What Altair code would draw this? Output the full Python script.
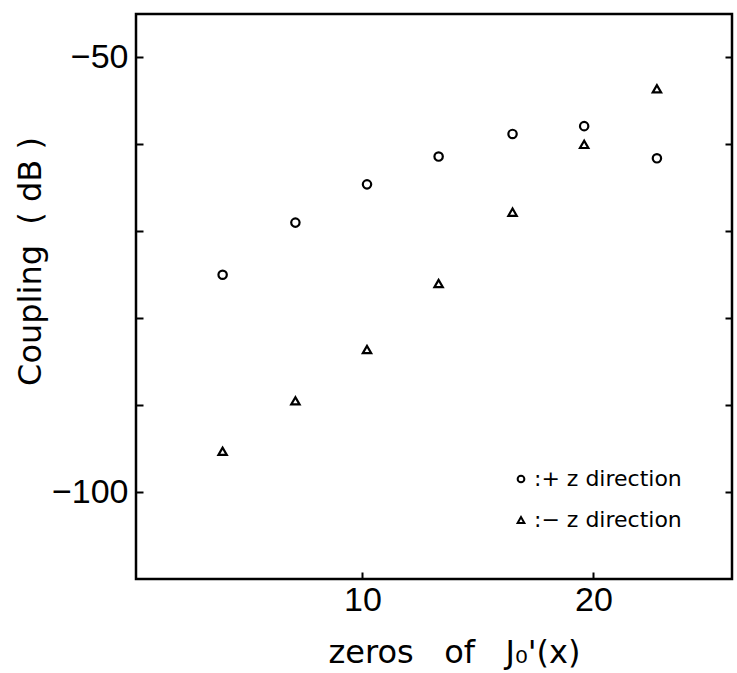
import altair as alt
import pandas as pd

# values
zeros_x = [3.95, 7.1, 10.2, 13.3, 16.5, 19.6, 22.75]
plus_z = [-75.0, -69.0, -64.6, -61.4, -58.8, -57.9, -61.6]
minus_z = [-95.3, -89.5, -83.6, -76.0, -67.8, -60.0, -53.6]
series_names = ["+z", "-z"]
y_ticks = [-50, -60, -70, -80, -90, -100]
x_ticks = [10, 20]

NB = "\u00a0"
x_title = "zeros" + NB * 3 + "of" + NB * 3 + "J₀'(x)"
y_title = "Coupling" + NB * 2 + "(" + NB + "dB" + NB + ")"
legend_plus = ":+" + NB + "z" + NB + "direction"
legend_minus = ":−" + NB + "z" + NB + "direction"

rows = []
for xv, a, b in zip(zeros_x, plus_z, minus_z):
    rows.append({"x": xv, "y": a, "dir": series_names[0]})
    rows.append({"x": xv, "y": b, "dir": series_names[1]})
df = pd.DataFrame(rows)

NUM_FONT = "Liberation Sans"
TXT_FONT = "DejaVu Sans"
xs = alt.Scale(domain=[0.2, 26.0], nice=False, zero=False)
ys = alt.Scale(domain=[-110, -45], nice=False, zero=False)

x_axis = alt.Axis(
    values=x_ticks, orient="bottom", offset=-7, tickSize=7, tickWidth=2, tickColor="black",
    domain=False, grid=False, labelFont=NUM_FONT, labelFontSize=34, labelColor="black",
    labelPadding=4, format="d",
    title=x_title, titleFont=TXT_FONT, titleFontSize=32, titleFontWeight="normal",
    titleColor="black", titleY=90, titleX=318, titleBaseline="alphabetic", titleAlign="center",
)
y_axis_left = alt.Axis(
    values=y_ticks, orient="left", offset=-7, tickSize=7, tickWidth=2, tickColor="black",
    domain=False, grid=False, labelFont=NUM_FONT, labelFontSize=34, labelColor="black",
    labelPadding=8,
    labelExpr="datum.value == -50 || datum.value == -100 ? '−' + format(-datum.value, 'd') : ''",
    title=y_title, titleFont=TXT_FONT, titleFontSize=32, titleFontWeight="normal",
    titleColor="black", titleX=-113, titleY=247, titleBaseline="middle", titleAlign="center",
)
y_axis_right = alt.Axis(
    values=y_ticks, orient="right", offset=-7, tickSize=7, tickWidth=2, tickColor="black",
    domain=False, grid=False, labels=False, title=None,
)

points = alt.Chart(df).mark_point(filled=False, size=70, strokeWidth=2.2, color="black", opacity=1).encode(
    x=alt.X("x:Q", scale=xs, axis=x_axis),
    y=alt.Y("y:Q", scale=ys, axis=y_axis_left),
    shape=alt.Shape(
        "dir:N",
        scale=alt.Scale(domain=series_names, range=["circle", "triangle-up"]),
        legend=alt.Legend(
            orient="none", legendX=374, legendY=454, title=None,
            labelExpr=f"datum.label == '+z' ? '{legend_plus}' : '{legend_minus}'",
            labelFont=TXT_FONT, labelFontSize=22, labelColor="black", labelOffset=2,
            symbolSize=45, symbolStrokeWidth=2, symbolStrokeColor="black",
            symbolFillColor="transparent", rowPadding=19,
        ),
    ),
)

right_ticks = alt.Chart(df).mark_point(opacity=0).encode(
    x=alt.X("x:Q", scale=xs, axis=x_axis),
    y=alt.Y("y:Q", scale=ys, axis=y_axis_right),
)

chart = alt.layer(points, right_ticks).resolve_axis(y="independent").properties(
    width=596, height=565,
    padding={"left": 136, "top": 14, "right": 5, "bottom": 94},
    autosize=alt.AutoSizeParams(type="none"),
    background="white",
).configure_view(stroke="black", strokeWidth=2.5)

chart.save("out.html", embed_options={"renderer": "svg", "actions": False})
